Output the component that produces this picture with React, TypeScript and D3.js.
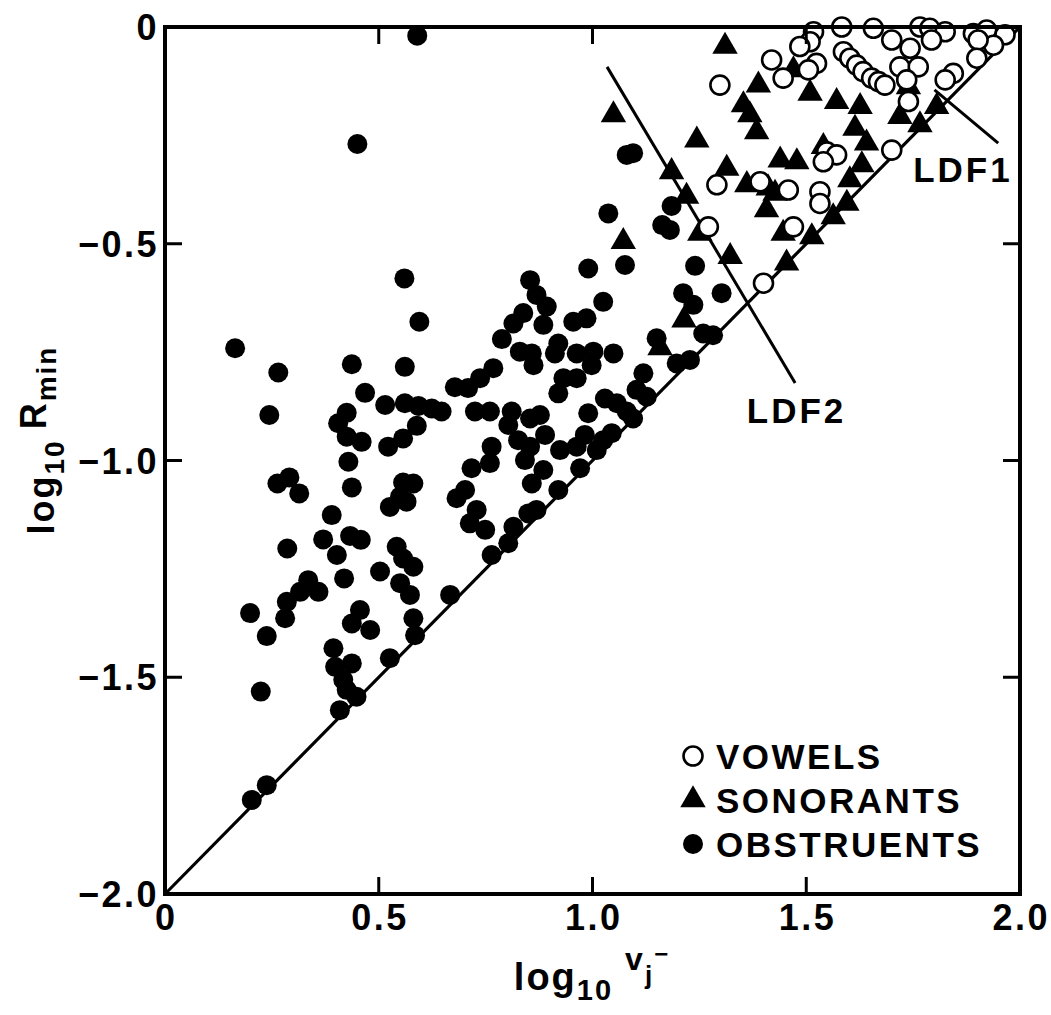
import React from "react";
import * as d3 from "d3";

// ---- data (log10 v_j^-, log10 R_min) ----
const xTicks = [0, 0.5, 1.0, 1.5, 2.0];
const xTickLabels = ["0", "0.5", "1.0", "1.5", "2.0"];
const yTicks = [0, -0.5, -1.0, -1.5, -2.0];
const yTickLabels = ["0", "\u22120.5", "\u22121.0", "\u22121.5", "\u22122.0"];

const vowels: [number, number][] = [
  [1.583, 0], [1.657, -0.003], [1.766, 0], [1.789, -0.003], [1.825, -0.011], [1.891, -0.015],
  [1.922, -0.007], [1.965, -0.018], [1.938, -0.042], [1.902, -0.03], [1.793, -0.03], [1.7, -0.03],
  [1.743, -0.049], [1.719, -0.092], [1.762, -0.092], [1.899, -0.072], [1.844, -0.107], [1.825, -0.122],
  [1.517, -0.011], [1.509, -0.034], [1.485, -0.045], [1.524, -0.084], [1.505, -0.099], [1.446, -0.118],
  [1.419, -0.076], [1.298, -0.134], [1.587, -0.057], [1.602, -0.072], [1.618, -0.088], [1.633, -0.103],
  [1.653, -0.118], [1.669, -0.126], [1.684, -0.134], [1.735, -0.122], [1.739, -0.172], [1.7, -0.284],
  [1.548, -0.288], [1.571, -0.295], [1.54, -0.311], [1.291, -0.364], [1.392, -0.357], [1.458, -0.376],
  [1.532, -0.38], [1.532, -0.407], [1.47, -0.461], [1.271, -0.461], [1.4, -0.591],
];

const sonorants: [number, number][] = [
  [1.31, -0.045], [1.049, -0.203], [1.244, -0.261], [1.388, -0.134], [1.353, -0.18], [1.368, -0.203],
  [1.384, -0.242], [1.47, -0.099], [1.509, -0.153], [1.571, -0.172], [1.626, -0.184], [1.614, -0.234],
  [1.641, -0.268], [1.54, -0.276], [1.439, -0.307], [1.478, -0.311], [1.314, -0.326], [1.361, -0.364],
  [1.411, -0.372], [1.427, -0.384], [1.407, -0.422], [1.446, -0.476], [1.63, -0.318], [1.602, -0.353],
  [1.595, -0.407], [1.563, -0.438], [1.513, -0.484], [1.454, -0.545], [1.739, -0.138], [1.719, -0.207],
  [1.766, -0.226], [1.805, -0.184], [1.185, -0.334], [1.22, -0.391], [1.072, -0.495], [1.251, -0.476],
  [1.322, -0.53], [1.214, -0.676], [1.158, -0.74],
];

const obstruents: [number, number][] = [
  [0.59, -0.02], [0.45, -0.27], [0.56, -0.58],
  [0.164, -0.741], [0.265, -0.797], [0.244, -0.895], [0.437, -0.778], [0.561, -0.784], [0.595, -0.68],
  [0.468, -0.844], [0.515, -0.872], [0.561, -0.868], [0.593, -0.874], [0.624, -0.88], [0.647, -0.887],
  [0.678, -0.831], [0.709, -0.833], [0.589, -0.92], [0.557, -0.949], [0.522, -0.968], [0.425, -0.89],
  [0.405, -0.914], [0.425, -0.945], [0.46, -0.957], [0.429, -1.003], [0.437, -1.062], [0.263, -1.053],
  [0.291, -1.039], [0.314, -1.076], [0.39, -1.126], [0.37, -1.182], [0.433, -1.174], [0.458, -1.183],
  [0.402, -1.218], [0.419, -1.272], [0.286, -1.203], [0.557, -1.051], [0.581, -1.053], [0.55, -1.083],
  [0.526, -1.107], [0.565, -1.095], [0.542, -1.199], [0.557, -1.226], [0.581, -1.245], [0.503, -1.256],
  [0.55, -1.283], [0.573, -1.31], [0.335, -1.276], [0.359, -1.303], [0.316, -1.303], [0.285, -1.326],
  [0.667, -1.31],
  [0.199, -1.352], [0.281, -1.364], [0.238, -1.405], [0.224, -1.533], [0.456, -1.345], [0.437, -1.376],
  [0.48, -1.391], [0.394, -1.433], [0.398, -1.476], [0.437, -1.468], [0.417, -1.506], [0.425, -1.529],
  [0.448, -1.545], [0.409, -1.576], [0.581, -1.364], [0.585, -1.403], [0.526, -1.456], [0.238, -1.749],
  [0.203, -1.783],
  [0.99, -0.557], [1.076, -0.549], [1.24, -0.551], [1.302, -0.614], [1.212, -0.614], [1.236, -0.641],
  [1.15, -0.718], [1.259, -0.707], [1.282, -0.711], [1.228, -0.768], [1.197, -0.776], [1.025, -0.634],
  [0.986, -0.672], [0.955, -0.68], [0.854, -0.584], [0.869, -0.618], [0.893, -0.645], [0.885, -0.687],
  [0.838, -0.66], [0.815, -0.684], [0.788, -0.72], [0.92, -0.73], [0.912, -0.753], [0.83, -0.749],
  [0.858, -0.753], [0.862, -0.78], [0.963, -0.753], [1.002, -0.749], [1.049, -0.753], [0.998, -0.78],
  [0.963, -0.81], [0.932, -0.81], [0.92, -0.845], [0.768, -0.787], [0.737, -0.81], [0.725, -0.887],
  [0.76, -0.887], [0.811, -0.887], [0.803, -0.918], [0.854, -0.903], [0.877, -0.895], [0.826, -0.953],
  [0.889, -0.941], [0.854, -0.968], [0.842, -0.999], [0.764, -0.968], [0.76, -1.006], [0.717, -1.018],
  [0.885, -1.022], [0.858, -1.053], [0.702, -1.068], [0.682, -1.087], [0.729, -1.114], [0.713, -1.145],
  [0.749, -1.16], [0.764, -1.218], [0.803, -1.191], [0.815, -1.153], [0.85, -1.122], [0.869, -1.114],
  [0.92, -1.068], [0.924, -0.976], [0.971, -1.018], [0.982, -0.941], [0.963, -0.968], [1.01, -0.976],
  [1.025, -0.953], [1.045, -0.937], [0.99, -0.891], [1.029, -0.857], [1.057, -0.868], [1.08, -0.887],
  [1.095, -0.903], [1.103, -0.837], [1.127, -0.853], [1.119, -0.799],
  [1.08, -0.295], [1.095, -0.291], [1.037, -0.43], [1.185, -0.413], [1.163, -0.457], [1.181, -0.468],
];

// reference lines (data coordinates)
const diagonalLine: [number, number][] = [[0, -2], [2, 0]];
const ldf2Line: [number, number][] = [[1.034, -0.092], [1.474, -0.821]];
const ldf1Line: [number, number][] = [[1.8, -0.145], [1.949, -0.268]];
const ldfLabels = [
  { text: "LDF1", x: 1.75, y: -0.358 },
  { text: "LDF2", x: 1.361, y: -0.913 },
];
const legendItems = [
  { label: "VOWELS", kind: "vowel" },
  { label: "SONORANTS", kind: "sonorant" },
  { label: "OBSTRUENTS", kind: "obstruent" },
];

const W = 1051;
const H = 1015;
const L = 165, R = 1020, T = 27, B = 894;
const FONT = "'Liberation Sans', Arial, Helvetica, sans-serif";

export default function App() {
  const x = d3.scaleLinear().domain([0, 2]).range([L, R]);
  const y = d3.scaleLinear().domain([-2, 0]).range([B, T]);
  const line = d3.line<[number, number]>().x((d) => x(d[0])).y((d) => y(d[1]));
  const tri = d3.symbol().type(d3.symbolTriangle).size(280)() as string;
  const tickLen = 17;
  const legendX = 693;
  const legendRows = [756, 800, 844];
  const LS = 2.5;

  return (
    <svg width={W} height={H} style={{ position: "absolute", left: 0, top: 0, background: "#fff" }}
      fontFamily={FONT}>
      <rect x={0} y={0} width={W} height={H} fill="#fff" />
      {/* diagonal and LDF lines */}
      <path d={line(diagonalLine) || ""} stroke="#000" strokeWidth={3.2} fill="none" />
      <path d={line(ldf2Line) || ""} stroke="#000" strokeWidth={3} fill="none" />
      <path d={line(ldf1Line) || ""} stroke="#000" strokeWidth={3} fill="none" />

      {/* obstruents */}
      {obstruents.map((d, i) => (
        <circle key={"o" + i} cx={x(d[0])} cy={y(d[1])} r={10} fill="#000" />
      ))}
      {/* sonorants */}
      {sonorants.map((d, i) => (
        <path key={"s" + i} d={tri} transform={`translate(${x(d[0])},${y(d[1])})`} fill="#000" />
      ))}
      {/* vowels */}
      {vowels.map((d, i) => (
        <circle key={"v" + i} cx={x(d[0])} cy={y(d[1])} r={9.5} fill="#fff" stroke="#000" strokeWidth={2.6} />
      ))}

      {/* frame */}
      <rect x={L} y={T} width={R - L} height={B - T} fill="none" stroke="#000" strokeWidth={4} />
      {xTicks.map((t, i) => (
        <g key={"xt" + i}>
          <line x1={x(t)} x2={x(t)} y1={B} y2={B - tickLen} stroke="#000" strokeWidth={3} />
          <line x1={x(t)} x2={x(t)} y1={T} y2={T + tickLen} stroke="#000" strokeWidth={3} />
          <text x={x(t) + LS / 2} y={B + 36} textAnchor="middle" fontSize={36} fontWeight="bold"
            letterSpacing={LS}>{xTickLabels[i]}</text>
        </g>
      ))}
      {yTicks.map((t, i) => (
        <g key={"yt" + i}>
          <line x1={L} x2={L + tickLen} y1={y(t)} y2={y(t)} stroke="#000" strokeWidth={3} />
          <line x1={R} x2={R - tickLen} y1={y(t)} y2={y(t)} stroke="#000" strokeWidth={3} />
          <text x={L - 6} y={y(t) + 13} textAnchor="end" fontSize={36} fontWeight="bold"
            letterSpacing={LS}>{yTickLabels[i]}</text>
        </g>
      ))}

      {/* LDF labels */}
      {ldfLabels.map((l) => (
        <text key={l.text} x={x(l.x)} y={y(l.y)} fontSize={35} fontWeight="bold" letterSpacing={3}>{l.text}</text>
      ))}

      {/* legend */}
      {legendItems.map((item, i) => (
        <g key={item.label}>
          {item.kind === "vowel" && (
            <circle cx={legendX} cy={legendRows[i]} r={9.5} fill="#fff" stroke="#000" strokeWidth={2.6} />
          )}
          {item.kind === "sonorant" && (
            <path d={tri} transform={`translate(${legendX},${legendRows[i]})`} fill="#000" />
          )}
          {item.kind === "obstruent" && <circle cx={legendX} cy={legendRows[i]} r={10} fill="#000" />}
          <text x={legendX + 23} y={legendRows[i] + 13} fontSize={35} fontWeight="bold"
            letterSpacing={LS}>{item.label}</text>
        </g>
      ))}

      {/* axis titles */}
      <text x={592} y={990} textAnchor="middle" fontSize={38} fontWeight="bold" letterSpacing={2}>
        log<tspan dy={10} fontSize={29}>10</tspan>
        <tspan dx={12} dy={-30} fontSize={32}>v</tspan>
        <tspan dy={14} fontSize={26}>j</tspan>
        <tspan dx={0} dy={-22} fontSize={24}>{"\u2212"}</tspan>
      </text>
      <text transform="translate(54,440) rotate(-90)" textAnchor="middle" fontSize={36} fontWeight="bold"
        letterSpacing={2}>
        log<tspan dy={10} fontSize={28}>10</tspan>
        <tspan dx={10} dy={-18}>R</tspan>
        <tspan dy={10} fontSize={28}>min</tspan>
      </text>
    </svg>
  );
}
